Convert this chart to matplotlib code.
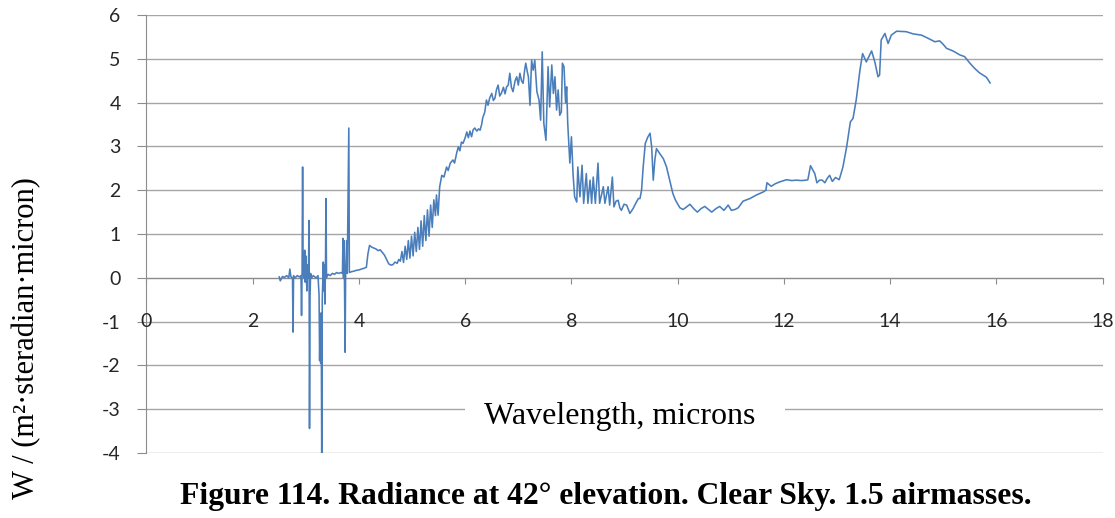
import matplotlib
matplotlib.use("Agg")
import matplotlib.pyplot as plt
from matplotlib.patches import Rectangle

plt.rcParams['axes.unicode_minus'] = False

# Measured sky radiance spectrum (wavelength in microns, radiance in W/(m2 sr micron))
wavelength = [
    2.50, 2.52, 2.56, 2.60, 2.64, 2.68, 2.70, 2.72, 2.75, 2.76, 2.77, 2.80, 2.84, 2.88,
    2.91, 2.92, 2.93, 2.94, 2.95, 2.97, 2.98, 2.99, 3.00, 3.02, 3.03, 3.05, 3.06, 3.07,
    3.08, 3.09, 3.11, 3.14, 3.17, 3.20, 3.23, 3.25, 3.26, 3.27, 3.28, 3.29, 3.30, 3.31,
    3.33, 3.34, 3.35, 3.36, 3.37, 3.38, 3.39, 3.42, 3.46, 3.50, 3.54, 3.58, 3.62, 3.66,
    3.69, 3.70, 3.71, 3.72, 3.73, 3.74, 3.75, 3.77, 3.78, 3.81, 3.82, 3.86, 3.90, 3.95,
    4.00, 4.05, 4.10, 4.14, 4.17, 4.20, 4.24, 4.28, 4.32, 4.36, 4.40, 4.44, 4.48, 4.52,
    4.56, 4.60, 4.64, 4.68, 4.72, 4.75,
    4.78, 4.81, 4.84, 4.87, 4.90, 4.93, 4.96, 4.99, 5.02, 5.05, 5.08, 5.11, 5.14, 5.17,
    5.20, 5.23, 5.26, 5.29, 5.32, 5.35, 5.38, 5.41, 5.44, 5.46, 5.49, 5.52, 5.56,
    5.60, 5.65, 5.68, 5.72, 5.77, 5.80, 5.84, 5.87, 5.90, 5.93, 5.96, 6.00, 6.03, 6.06,
    6.09, 6.12, 6.15, 6.18, 6.22, 6.25, 6.28, 6.31, 6.33, 6.37, 6.40, 6.43, 6.46, 6.50,
    6.53, 6.56, 6.59, 6.62, 6.65, 6.68, 6.72, 6.75, 6.78, 6.81, 6.84, 6.87, 6.90, 6.94,
    6.97, 7.00, 7.03, 7.06, 7.09, 7.12, 7.14, 7.17, 7.19, 7.22, 7.25, 7.28, 7.31, 7.35,
    7.39, 7.42, 7.45, 7.48, 7.52, 7.56, 7.59, 7.63, 7.66, 7.69, 7.72, 7.75, 7.78, 7.81,
    7.83, 7.86, 7.89, 7.91, 7.93, 7.97, 8.00, 8.03, 8.06, 8.10, 8.12, 8.16, 8.20, 8.23,
    8.28, 8.31, 8.35, 8.38, 8.41, 8.45, 8.50, 8.53, 8.60, 8.63, 8.69, 8.72, 8.77, 8.80,
    8.84, 8.88, 8.91, 8.94, 8.99, 9.04, 9.10, 9.16, 9.21, 9.26, 9.29, 9.32, 9.35, 9.39,
    9.44, 9.48, 9.51, 9.54, 9.57, 9.60, 9.66, 9.73, 9.79, 9.85, 9.91, 9.96, 10.04, 10.10,
    10.17, 10.23, 10.30, 10.37, 10.44, 10.51, 10.58, 10.64, 10.72, 10.79, 10.87, 10.95,
    11.01, 11.08, 11.14, 11.23, 11.36, 11.48, 11.61, 11.66, 11.68, 11.76, 11.84, 11.92,
    12.05, 12.15, 12.23, 12.33, 12.42, 12.45, 12.50, 12.58, 12.62, 12.67, 12.72, 12.77,
    12.82, 12.86, 12.91, 12.97, 13.04, 13.11, 13.18, 13.25, 13.30, 13.36, 13.43, 13.48,
    13.55, 13.65, 13.71, 13.77, 13.80, 13.83, 13.90, 13.96, 14.02, 14.12, 14.30, 14.43,
    14.59, 14.71, 14.84, 14.93, 14.99, 15.06, 15.18, 15.31, 15.40, 15.50, 15.59, 15.68,
    15.81, 15.88,
]
radiance = [
    0.02, -0.07, 0.03, 0.01, 0.05, 0.00, 0.20, 0.02, 0.00, -1.24, 0.05, 0.00, 0.05, 0.02,
    0.05, -0.86, 0.10, 2.53, 0.10, 0.00, 0.63, -0.10, 0.50, -0.30, 0.30, 0.00, 1.31, -3.44,
    -0.44, 0.10, 0.00, 0.05, 0.02, 0.00, 0.05, -0.40, -1.89, -1.20, -1.95, -0.80, -4.01, -0.50,
    0.36, -0.30, 0.30, -0.60, 0.20, 1.81, 0.00, 0.08, 0.05, 0.10, 0.08, 0.12, 0.10, 0.12,
    0.10, 0.90, 0.00, 0.85, -0.30, -1.70, 0.10, 0.85, 0.10, 3.42, 0.12, 0.14, 0.15, 0.17,
    0.18, 0.20, 0.22, 0.24, 0.55, 0.74, 0.70, 0.68, 0.66, 0.62, 0.64, 0.58, 0.52, 0.42,
    0.32, 0.29, 0.30, 0.36, 0.33, 0.42,
    0.38, 0.60, 0.35, 0.72, 0.42, 0.85, 0.45, 0.95, 0.50, 1.04, 0.60, 1.15, 0.65, 1.30,
    0.72, 1.42, 0.85, 1.55, 0.95, 1.66, 1.15, 1.78, 1.42, 1.89, 1.43, 2.08, 2.34,
    2.30, 2.53, 2.45, 2.62, 2.69, 2.62, 2.85, 2.99, 2.90, 3.10, 3.07, 3.20, 3.33, 3.20,
    3.35, 3.22, 3.38, 3.42, 3.35, 3.40, 3.37, 3.50, 3.65, 3.79, 4.06, 3.94, 4.10, 4.21,
    4.05, 4.10, 4.30, 4.40, 4.15, 4.21, 4.35, 4.20, 4.36, 4.40, 4.67, 4.35, 4.25, 4.50,
    4.59, 4.40, 4.67, 4.50, 4.44, 4.75, 4.90, 4.70, 4.59, 3.94, 4.97, 4.74, 4.97, 4.25,
    4.06, 3.60, 5.16, 3.53, 3.14, 4.82, 3.90, 4.86, 4.21, 4.59, 3.83, 4.29, 3.71, 3.79,
    4.90, 4.82, 3.99, 4.36, 3.53, 2.62, 3.22, 2.38, 1.85, 1.73, 2.53, 1.85, 2.57, 1.70,
    2.38, 1.70, 2.23, 1.70, 2.30, 1.70, 2.62, 1.70, 2.08, 1.70, 2.08, 1.66, 2.30, 1.62,
    1.75, 1.77, 1.60, 1.54, 1.68, 1.66, 1.47, 1.58, 1.70, 1.81, 1.81, 2.00, 2.53, 3.07,
    3.22, 3.30, 2.99, 2.23, 2.69, 2.95, 2.84, 2.72, 2.53, 2.23, 1.92, 1.77, 1.60, 1.56,
    1.62, 1.68, 1.58, 1.50, 1.58, 1.63, 1.56, 1.50, 1.58, 1.63, 1.54, 1.66,
    1.54, 1.56, 1.60, 1.75, 1.81, 1.89, 1.96, 2.00, 2.17, 2.09, 2.15, 2.19,
    2.24, 2.22, 2.23, 2.22, 2.23, 2.24, 2.56, 2.38, 2.17, 2.23, 2.23, 2.17,
    2.28, 2.34, 2.20, 2.29, 2.24, 2.53, 2.99, 3.56, 3.64, 4.06, 4.74, 5.12,
    4.93, 5.18, 4.93, 4.59, 4.63, 5.43, 5.58, 5.35, 5.54, 5.63, 5.62, 5.57,
    5.54, 5.47, 5.39, 5.41, 5.34, 5.24, 5.18, 5.09, 5.05, 4.90, 4.78, 4.68,
    4.58, 4.45,
]

x_ticks = list(range(0, 19, 2))
y_ticks = list(range(-4, 7))

axis_grey = '#8c8c8c'
grid_grey = '#a6a6a6'
text_dark = '#262626'
serif = ['Liberation Serif', 'DejaVu Serif']

fig = plt.figure(figsize=(11.15, 5.18), dpi=100)
ax = fig.add_axes([0.1313, 0.1255, 0.8577, 0.8455])

ax.plot(wavelength, radiance, color='#4a7ebb', linewidth=1.15, zorder=3)

ax.set_xlim(0, 18)
ax.set_ylim(-4, 6)
ax.set_xticks(x_ticks)
ax.set_yticks(y_ticks)
ax.set_axisbelow(True)
ax.grid(axis='y', color=grid_grey, linewidth=1.0)

for side in ('top', 'right'):
    ax.spines[side].set_visible(False)
ax.spines['bottom'].set_position(('data', 0))
ax.spines['bottom'].set_color(axis_grey)
ax.spines['left'].set_color(axis_grey)

ax.tick_params(axis='y', direction='out', length=6.5, color=axis_grey,
               pad=12, labelsize=14, labelcolor=text_dark)
ax.tick_params(axis='x', direction='out', length=4.5, color=axis_grey,
               labelbottom=False)
for lbl in ax.get_yticklabels():
    lbl.set_fontfamily('Lato')

# x tick labels sit one unit below the axis line, over the -1 gridline
for v in x_ticks:
    ax.text(v, -1, str(v), ha='center', va='center', fontsize=14,
            family='Lato', color=text_dark, zorder=4)

# axis title in a white box that hides the gridlines behind it
ax.add_patch(Rectangle((5.99, -3.83), 6.03, 1.14, facecolor='white',
                       edgecolor='none', zorder=2))
ax.text(8.91, -3.17, 'Wavelength, microns', ha='center', va='center',
        fontsize=23, family=serif, color='black', zorder=4)

fig.text(0.024, 0.347, 'W / (m²·steradian·micron)', rotation=90,
         ha='center', va='center', fontsize=22, family=serif)

fig.text(0.543, 0.042,
         'Figure 114. Radiance at 42° elevation. Clear Sky. 1.5 airmasses.',
         ha='center', va='center', fontsize=22.8, fontweight='bold', family=serif)

fig.savefig('out.png', dpi=100)
